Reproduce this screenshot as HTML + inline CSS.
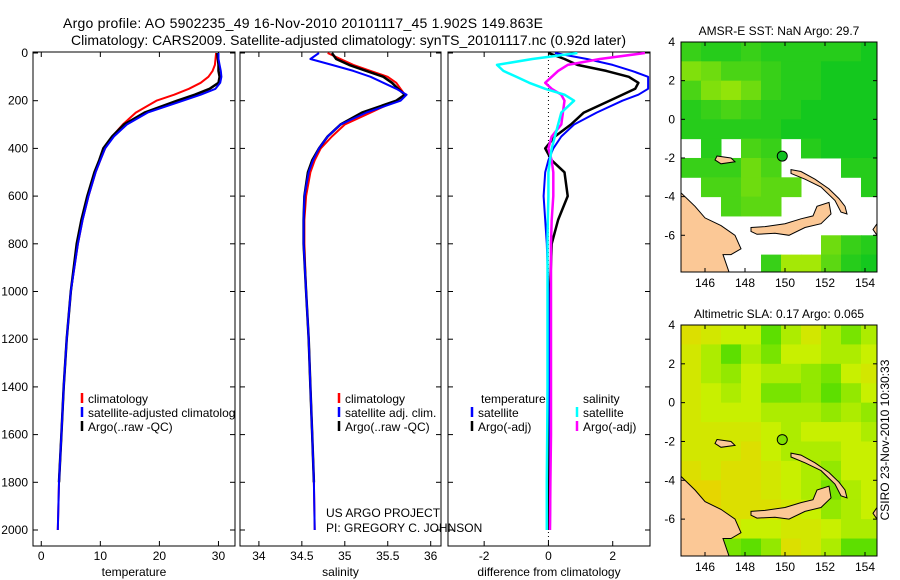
<!DOCTYPE html>
<html><head><meta charset="utf-8">
<style>
html,body{margin:0;padding:0;background:#fff;}
svg{display:block;font-family:"Liberation Sans",sans-serif;}
text{font-size:12px;fill:#000;}
</style></head>
<body>
<svg id="fig" width="900" height="580" viewBox="0 0 900 580" xmlns="http://www.w3.org/2000/svg">
<text x="63" y="28" text-anchor="start" style="font-size:14px" textLength="480">Argo profile: AO 5902235_49 16-Nov-2010 20101117_45 1.902S 149.863E</text>
<text x="71" y="45" text-anchor="start" style="font-size:14px" textLength="555">Climatology: CARS2009. Satellite-adjusted climatology: synTS_20101117.nc (0.92d later)</text>
<text x="889" y="440" text-anchor="middle" transform="rotate(-90 889 440)">CSIRO 23-Nov-2010 10:30:33</text>
</svg>
<script>
// ---- profile data ----
const depths = [0,25,50,75,100,125,150,175,200,250,300,350,400,450,500,600,700,800,1000,1200,1400,1600,1800,2000];
const tClim = [29.6,29.5,29.4,29.0,28.3,27.0,25.0,22.5,19.5,16.0,13.8,12.0,10.8,10.0,9.2,8.0,7.0,6.2,5.0,4.3,3.8,3.4,3.0,2.8];
const tSat  = [30.0,30.0,30.2,30.4,30.5,30.3,29.5,27.0,24.0,18.0,14.5,12.3,10.8,10.0,9.2,8.0,7.0,6.2,5.0,4.3,3.8,3.4,3.0,2.8];
const tArgo = [29.8,29.9,30.0,30.0,30.2,30.0,28.5,26.0,23.0,17.5,14.0,12.0,10.5,9.8,9.0,7.8,6.8,6.0,5.0,4.3,3.8,3.4,3.0,2.8];
const sClim = [34.80,34.95,35.10,35.30,35.50,35.60,35.65,35.70,35.60,35.30,35.00,34.85,34.72,34.65,34.60,34.55,34.53,34.53,34.55,34.58,34.60,34.62,34.64,34.65];
const sSat  = [34.70,34.60,34.85,35.10,35.30,35.45,35.60,35.72,35.65,35.25,34.95,34.80,34.70,34.63,34.58,34.53,34.52,34.52,34.55,34.58,34.60,34.62,34.64,34.65];
const sArgo = [34.85,34.90,35.05,35.25,35.45,35.55,35.62,35.70,35.60,35.20,34.95,34.80,34.70,34.62,34.57,34.53,34.52,34.52,34.55,34.58,34.60,34.62,34.64,34.65];
const dSatS  = [0.9,-0.5,-1.6,-1.4,-1.0,-0.6,-0.1,0.5,0.8,0.4,0.3,0.2,0.1,0.05,0,0,-0.02,-0.03,-0.03,-0.03,-0.03,-0.04,-0.05,-0.05];
const dArgoS = [3.0,1.6,0.6,0.3,0.1,-0.1,0.1,0.4,0.5,0.45,0.4,0.1,0,0.1,0.15,0.15,0.1,0.08,0.08,0.08,0.08,0.08,0.06,0.05];
const dArgoT = [0,0.5,0.9,1.8,2.5,2.8,2.7,2.3,1.9,1.1,0.7,0.2,-0.1,0.1,0.5,0.6,0.3,0.1,0.05,0,0,0,0,0];
const dSatT  = [0.2,1.2,2.0,2.6,3.1,3.1,3.1,2.8,2.3,1.5,0.8,0.4,0.15,0,-0.1,-0.15,-0.1,-0.05,0,0.02,0.03,0.05,0.06,0.05];
const depthTicks = [0,200,400,600,800,1000,1200,1400,1600,1800,2000];
const tTicks = [0,10,20,30];
const sTicks = [34,34.5,35,35.5,36];
const dTicks = [-2,0,2];
// ---- map data (rows lat 4 -> -8, cols 1 deg from 144.8E) ; -1 = no data ----
const sstGrid = [
[0.2,0.1,0.1,0.2,0.1,0.1,0.1,0.1,0.1,0.0],
[0.6,0.5,0.3,0.3,0.2,0.1,0.1,0.0,0.0,0.0],
[0.3,0.6,0.7,0.5,0.2,0.1,0.1,0.0,0.0,0.0],
[0.1,0.2,0.3,0.2,0.1,0.1,0.0,0.0,0.0,0.0],
[0.1,0.1,0.1,0.1,0.1,0.0,0.0,0.0,0.0,0.0],
[-1,0.1,-1,0.3,0.2,-1,0.1,0.0,0.0,0.0],
[0.2,0.2,0.2,0.5,0.3,-1,-1,-1,0.1,0.1],
[-1,0.3,0.3,0.5,0.4,0.4,-1,-1,-1,0.1],
[-1,-1,0.3,0.4,0.4,-1,-1,-1,-1,-1],
[-1,-1,-1,-1,-1,-1,-1,-1,-1,-1],
[-1,-1,-1,-1,-1,-1,-1,0.5,0.2,0.1],
[-1,-1,-1,-1,0.2,0.8,0.8,0.4,0.1,0.0]];
const slaGrid = [
[0.8,0.7,0.6,0.6,0.2,0.5,0.7,0.5,0.3,0.5],
[0.7,0.5,0.2,0.5,0.3,0.6,0.6,0.5,0.5,0.6],
[0.7,0.5,0.4,0.6,0.5,0.5,0.4,0.3,0.6,0.7],
[0.7,0.6,0.5,0.6,0.3,0.3,0.4,0.2,0.4,0.6],
[0.7,0.6,0.6,0.6,0.5,0.5,0.5,0.4,0.5,0.4],
[0.7,0.7,0.7,0.7,0.6,0.5,0.6,0.6,0.6,0.5],
[0.7,0.7,0.7,0.8,0.6,0.5,0.5,0.5,0.6,0.6],
[0.8,0.7,0.8,0.8,0.7,0.6,0.5,0.4,0.6,0.6],
[0.9,0.9,0.8,0.8,0.7,0.6,0.5,0.3,0.5,0.6],
[0.9,0.9,0.8,0.8,0.8,0.7,0.6,0.4,0.5,0.6],
[0.8,0.8,0.7,0.6,0.6,0.7,0.7,0.6,0.5,0.5],
[0.7,0.6,0.3,0.2,0.4,0.8,0.7,0.5,0.2,0.2]];
const lonTicks = [146,148,150,152,154];
const latTicks = [4,2,0,-2,-4,-6];
const argoLon = 149.863, argoLat = -1.902;

const NS="http://www.w3.org/2000/svg";
const svg=document.getElementById('fig');
function mk(tag,attrs,parent){const e=document.createElementNS(NS,tag);for(const k in attrs)e.setAttribute(k,attrs[k]);(parent||svg).appendChild(e);return e;}

const Y0=53, Y1=530, TOP=52, BOT=546;
const yD = d => Y0 + (d/2000)*(Y1-Y0);

function panel(name,left,right,xmin,xmax,ticks,label,showY){
  const g=mk('g',{});
  
  
  const xf = v => left + (v-xmin)/(xmax-xmin)*(right-left);
  const clip=mk('clipPath',{id:'c-'+name},g);
  mk('rect',{x:left,y:TOP,width:right-left,height:BOT-TOP},clip);
  const frame=mk('rect',{x:left,y:TOP,width:right-left,height:BOT-TOP,fill:'none',stroke:'#000','stroke-width':1},g);
  
  
  ticks.forEach(t=>{
    const x=xf(t);
    mk('line',{x1:x,x2:x,y1:TOP,y2:TOP+5,stroke:'#000'},g);
    mk('line',{x1:x,x2:x,y1:BOT,y2:BOT-5,stroke:'#000'},g);
    const tx=mk('text',{x:x,y:BOT+14,'text-anchor':'middle'},g);
    tx.textContent=t;
    
    
  });
  depthTicks.forEach(d=>{
    const y=yD(d);
    mk('line',{x1:left,x2:left+5,y1:y,y2:y,stroke:'#000'},g);
    mk('line',{x1:right,x2:right-5,y1:y,y2:y,stroke:'#000'},g);
    if(showY){
      const tx=mk('text',{x:left-5,y:y+4,'text-anchor':'end'},g);
      tx.textContent=d;
      
      
    }
  });
  const lab=mk('text',{x:(left+right)/2,y:BOT+30,'text-anchor':'middle'},g);
  lab.textContent=label;
  
  
  const lg=mk('g',{'clip-path':'url(#c-'+name+')'},g);
  return {g,lg,xf};
}
function line(p,vals,color,w,name,maxDepth){
  const pts=[];
  vals.forEach((v,i)=>{ if(maxDepth===undefined||depths[i]<=maxDepth) pts.push(p.xf(v).toFixed(1)+','+yD(depths[i]).toFixed(1)); });
  const pl=mk('polyline',{points:pts.join(' '),fill:'none',stroke:color,'stroke-width':w,'stroke-linejoin':'round'},p.lg);
  
  
}
function legend(g,x,y,color,label,name){
  if(color) mk('line',{x1:x,x2:x,y1:y-10,y2:y,stroke:color,'stroke-width':2.5},g);
  const t=mk('text',{x:x+6,y:y},g);
  t.textContent=label;
  
  
  return t;
}

// Panel 1 temperature
const p1=panel('temperature-panel',33,235,-1.4,32.8,tTicks,'temperature',true);
line(p1,tClim,'#ff0000',2,'temp-climatology-line');
line(p1,tArgo,'#000000',2.5,'temp-argo-line',1990);
line(p1,tSat,'#0000ff',2,'temp-satellite-line');
legend(p1.g,82,403,'#ff0000','climatology','legend-climatology');
legend(p1.g,82,417,'#0000ff','satellite-adjusted climatology','legend-satellite').setAttribute('clip-path','url(#c-temperature-panel)');
legend(p1.g,82,431,'#000','Argo(..raw -QC)','legend-argo');

// Panel 2 salinity
const p2=panel('salinity-panel',240,441,33.78,36.12,sTicks,'salinity',false);
line(p2,sClim,'#ff0000',2,'sal-climatology-line');
line(p2,sArgo,'#000000',2.5,'sal-argo-line',1990);
line(p2,sSat,'#0000ff',2,'sal-satellite-line');
legend(p2.g,339,403,'#ff0000','climatology','legend-climatology');
legend(p2.g,339,417,'#0000ff','satellite adj. clim.','legend-satellite');
legend(p2.g,339,431,'#000','Argo(..raw -QC)','legend-argo');
legend(p2.g,320,517,null,'US ARGO PROJECT','project-credit');
legend(p2.g,320,532,null,'PI: GREGORY C. JOHNSON','pi-credit');

// Panel 3 differences
const p3=panel('difference-panel',448,650,-3.125,3.16,dTicks,'difference from climatology',false);
mk('line',{x1:p3.xf(0),x2:p3.xf(0),y1:TOP,y2:BOT,stroke:'#000','stroke-dasharray':'1,3'},p3.lg);
line(p3,dArgoT,'#000000',2.5,'diff-temp-argo-line');
line(p3,dSatT,'#0000ff',2,'diff-temp-satellite-line');
line(p3,dArgoS,'#ff00ff',2.5,'diff-sal-argo-line');
line(p3,dSatS,'#00ffff',2.5,'diff-sal-satellite-line');
legend(p3.g,475,403,null,'temperature','legend-temperature-header');
legend(p3.g,472,417,'#0000ff','satellite','legend-temp-satellite');
legend(p3.g,472,431,'#000','Argo(-adj)','legend-temp-argo');
legend(p3.g,577,403,null,'salinity','legend-salinity-header');
legend(p3.g,577,417,'#00ffff','satellite','legend-sal-satellite');
legend(p3.g,577,431,'#ff00ff','Argo(-adj)','legend-sal-argo');

// ---- maps ----
const lands = [
 [[144.8,-3.8],[145.5,-4.5],[146,-5.1],[146.8,-5.5],[147.5,-6.0],[147.8,-6.7],[147.3,-7.0],[146.9,-7.0],[147.2,-7.9],[144.8,-7.9]],
 [[148.3,-5.6],[149,-5.55],[150,-5.4],[150.8,-5.15],[151.4,-5.0],[151.6,-4.5],[152.2,-4.3],[152.3,-4.9],[151.8,-5.4],[151,-5.6],[150.2,-6.0],[149.5,-5.9],[148.6,-5.95],[148.3,-5.8]],
 [[150.3,-2.6],[150.8,-2.7],[151.5,-3.1],[152.2,-3.6],[152.7,-4.1],[153.0,-4.5],[153.1,-4.9],[152.8,-4.8],[152.5,-4.2],[151.8,-3.5],[151.0,-3.1],[150.3,-2.8]],
 [[146.6,-1.9],[147.3,-2.0],[147.5,-2.2],[146.8,-2.3],[146.5,-2.1]],
 [[154.6,-5.4],[154.6,-6.0],[154.4,-5.7]]
];
function lerpC(a,b,t){return a.map((v,i)=>Math.round(v+(b[i]-v)*t));}
function sstColor(v){const g=[20,200,30],y=[200,240,0];const c=lerpC(g,y,Math.max(0,Math.min(1,v)));return 'rgb('+c.join(',')+')';}
function slaColor(v){const g=[40,215,0],m=[200,240,0],o=[240,205,0];
  const c=v<0.6?lerpC(g,m,v/0.6):lerpC(m,o,(v-0.6)/0.4);return 'rgb('+c.join(',')+')';}
function map(name,top,bot,grid,colorFn,title){
  const L=681,R=877,lon0=144.8,lon1=154.6,lat0=4.0,lat1=-7.9;
  const xf=lo=>L+(lo-lon0)/(lon1-lon0)*(R-L);
  const yf=la=>top+(lat0-la)/(lat0-lat1)*(bot-top);
  const g=mk('g',{});
  
  
  const clip=mk('clipPath',{id:'c-'+name},g);
  mk('rect',{x:L,y:top,width:R-L,height:bot-top},clip);
  const inner=mk('g',{'clip-path':'url(#c-'+name+')'},g);
  grid.forEach((row,r)=>row.forEach((v,c)=>{
    if(v<0) return;
    const x0=xf(lon0+c),x1=xf(lon0+c+1),y0=yf(lat0-r),y1=yf(lat0-r-1);
    const cell=mk('rect',{x:x0,y:y0,width:x1-x0+0.5,height:y1-y0+0.5,fill:colorFn(v)},inner);
    
    
  }));
  lands.forEach(poly=>{
    const p=mk('polygon',{points:poly.map(q=>xf(q[0]).toFixed(1)+','+yf(q[1]).toFixed(1)).join(' '),fill:'#fbc896',stroke:'#000','stroke-width':1},inner);
    
    
  });
  const dot=mk('circle',{cx:xf(argoLon),cy:yf(argoLat),r:5,fill:name==='sst-map'?'#10c020':'#80e000',stroke:'#000','stroke-width':1},inner);
  
  
  mk('rect',{x:L,y:top,width:R-L,height:bot-top,fill:'none',stroke:'#000'},g);
  lonTicks.forEach(lo=>{const x=xf(lo);
    mk('line',{x1:x,x2:x,y1:bot,y2:bot-4,stroke:'#000'},g);
    mk('line',{x1:x,x2:x,y1:top,y2:top+4,stroke:'#000'},g);
    const t=mk('text',{x:x,y:bot+15,'text-anchor':'middle'},g);t.textContent=lo;
    
    });
  latTicks.forEach(la=>{const y=yf(la);
    mk('line',{x1:L,x2:L+4,y1:y,y2:y,stroke:'#000'},g);
    mk('line',{x1:R,x2:R-4,y1:y,y2:y,stroke:'#000'},g);
    const t=mk('text',{x:L-6,y:y+4,'text-anchor':'end'},g);t.textContent=la;
    
    });
  const tt=mk('text',{x:(L+R)/2,y:top-7,'text-anchor':'middle'},g);tt.textContent=title;
  
  
}
map('sst-map',42,272,sstGrid,sstColor,'AMSR-E SST: NaN Argo: 29.7');
map('sla-map',325,556,slaGrid,slaColor,'Altimetric SLA: 0.17 Argo: 0.065');
</script>
</body></html>
